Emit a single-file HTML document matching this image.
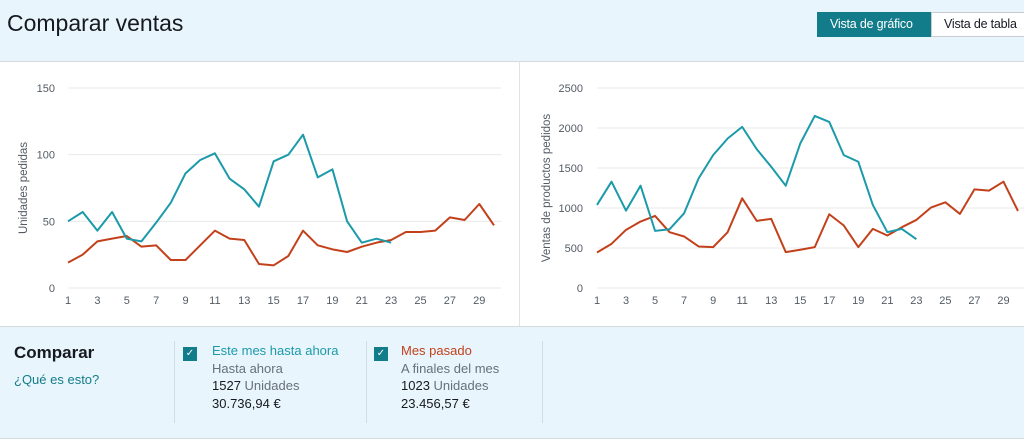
<!DOCTYPE html>
<html><head><meta charset="utf-8"><style>
body{margin:0;width:1024px;height:439px;overflow:hidden;font-family:"Liberation Sans",sans-serif;background:#fff;position:relative}
.hdr{position:absolute;left:0;top:0;width:1024px;height:61px;background:#e8f5fc;border-bottom:1px solid #d5dbdb}
.title{position:absolute;left:7px;top:10px;font-size:23px;color:#16191f}
.btn{position:absolute;top:12px;height:25px;line-height:23px;font-size:12.5px;padding:0 0 0 12px;box-sizing:border-box;white-space:nowrap;overflow:hidden;letter-spacing:-0.2px}
.b1{left:817px;width:114px;background:#137c8a;color:#fff;border:1px solid #137c8a}
.b2{left:931px;width:100px;background:#fff;color:#16191f;border:1px solid #c6ccd0}
.cmp{position:absolute;left:0;top:326px;width:1024px;height:111px;background:#e8f5fc;border-top:1px solid #d5dbdb;border-bottom:1px solid #d5dbdb}
.cb{position:absolute;width:14px;height:14px;background:#137c8a;color:#fff;font-size:10px;text-align:center;line-height:14px}
.t{position:absolute;font-size:13px;color:#687078}
</style></head><body>
<div class="hdr">
<div class="title">Comparar ventas</div>
<div class="btn b1">Vista de gráfico</div>
<div class="btn b2">Vista de tabla</div>
</div>
<div style="position:absolute;left:519px;top:62px;width:1px;height:264px;background:#e0e4e6"></div>
<svg id="c" width="1024" height="439" style="position:absolute;left:0;top:0"></svg>
<div class="cmp">
<div style="position:absolute;left:14px;top:16px;font-size:17px;font-weight:bold;color:#16191f">Comparar</div>
<div style="position:absolute;left:14px;top:45px;font-size:13px;color:#137c8a">¿Qué es esto?</div>
<div style="position:absolute;left:174px;top:14px;width:1px;height:82px;background:#d5dbdb"></div>
<div style="position:absolute;left:366px;top:14px;width:1px;height:82px;background:#d5dbdb"></div>
<div style="position:absolute;left:542px;top:14px;width:1px;height:82px;background:#d5dbdb"></div>
<div class="cb" style="left:183px;top:20px">✓</div>
<div class="t" style="left:212px;top:16px;color:#1b9aaa">Este mes hasta ahora</div>
<div class="t" style="left:212px;top:34px">Hasta ahora</div>
<div class="t" style="left:212px;top:51px"><span style="color:#16191f">1527</span> Unidades</div>
<div class="t" style="left:212px;top:69px;color:#16191f">30.736,94 €</div>
<div class="cb" style="left:374px;top:20px">✓</div>
<div class="t" style="left:401px;top:16px;color:#c2411b">Mes pasado</div>
<div class="t" style="left:401px;top:34px">A finales del mes</div>
<div class="t" style="left:401px;top:51px"><span style="color:#16191f">1023</span> Unidades</div>
<div class="t" style="left:401px;top:69px;color:#16191f">23.456,57 €</div>
</div>
<script>
const days=[];for(let i=1;i<=30;i++)days.push(i);
const xTicks=[1,3,5,7,9,11,13,15,17,19,21,23,25,27,29];
const unitsTicks=[0,50,100,150];
const salesTicks=[0,500,1000,1500,2000,2500];
const unitsCurrent=[50,57,43,57,37,35,49,64,86,96,101,82,74,61,95,100,115,83,89,50,34,37,34];
const unitsPast=[19,25,35,37,39,31,32,21,21,32,43,37,36,18,17,24,43,32,29,27,31,34,36,42,42,43,53,51,63,47];
const salesCurrent=[1038,1329,967,1279,714,735,934,1370,1661,1869,2014,1736,1516,1279,1806,2151,2076,1661,1578,1038,698,739,610];
const salesPast=[444,552,727,831,901,698,644,519,511,698,1121,839,864,449,478,511,922,781,511,739,656,760,851,1005,1071,926,1233,1217,1329,963];
const svg=document.getElementById('c');const NS='http://www.w3.org/2000/svg';
function mk(t,a,txt){const e=document.createElementNS(NS,t);for(const k in a)e.setAttribute(k,a[k]);if(txt!==undefined)e.textContent=txt;svg.appendChild(e);return e;}
function chart(o){
 const x=d=>o.x0+(d-1)*(o.x1-o.x0)/29;
 const y=v=>o.y0-v*(o.y0-o.yTop)/o.max;
 o.ticks.forEach(t=>{
  const g=mk('line',{x1:o.x0,x2:o.gx2,y1:y(t),y2:y(t),stroke:'#e8eaeb','stroke-width':1});
  
  const l=mk('text',{x:o.lx,y:y(t)+4,'text-anchor':'end','font-size':11,fill:'#545b64'},t);
  
 });
 xTicks.forEach(d=>{const l=mk('text',{x:x(d),y:o.y0+16,'text-anchor':'middle','font-size':11,fill:'#545b64'},d);
  });
 const yt=mk('text',{transform:`translate(${o.tx},${(o.y0+o.yTop)/2}) rotate(-90)`,'text-anchor':'middle','font-size':11.5,fill:'#545b64'},o.title);
 
 [[o.past,'#c2411b','last-month-line'],[o.cur,'#1b9aaa','this-month-line']].forEach(([arr,c,n])=>{
  const p=mk('polyline',{points:arr.map((v,i)=>x(days[i])+','+y(v)).join(' '),fill:'none',stroke:c,'stroke-width':2,'stroke-linejoin':'round'});
  
 });
}
chart({x0:68,x1:494,gx2:501,y0:288,yTop:88,max:150,ticks:unitsTicks,lx:55,tx:27,title:'Unidades pedidas',cur:unitsCurrent,past:unitsPast});
chart({x0:597,x1:1018,gx2:1024,y0:288,yTop:88,max:2500,ticks:salesTicks,lx:583,tx:550,title:'Ventas de productos pedidos',cur:salesCurrent,past:salesPast});
</script>
</body></html>
